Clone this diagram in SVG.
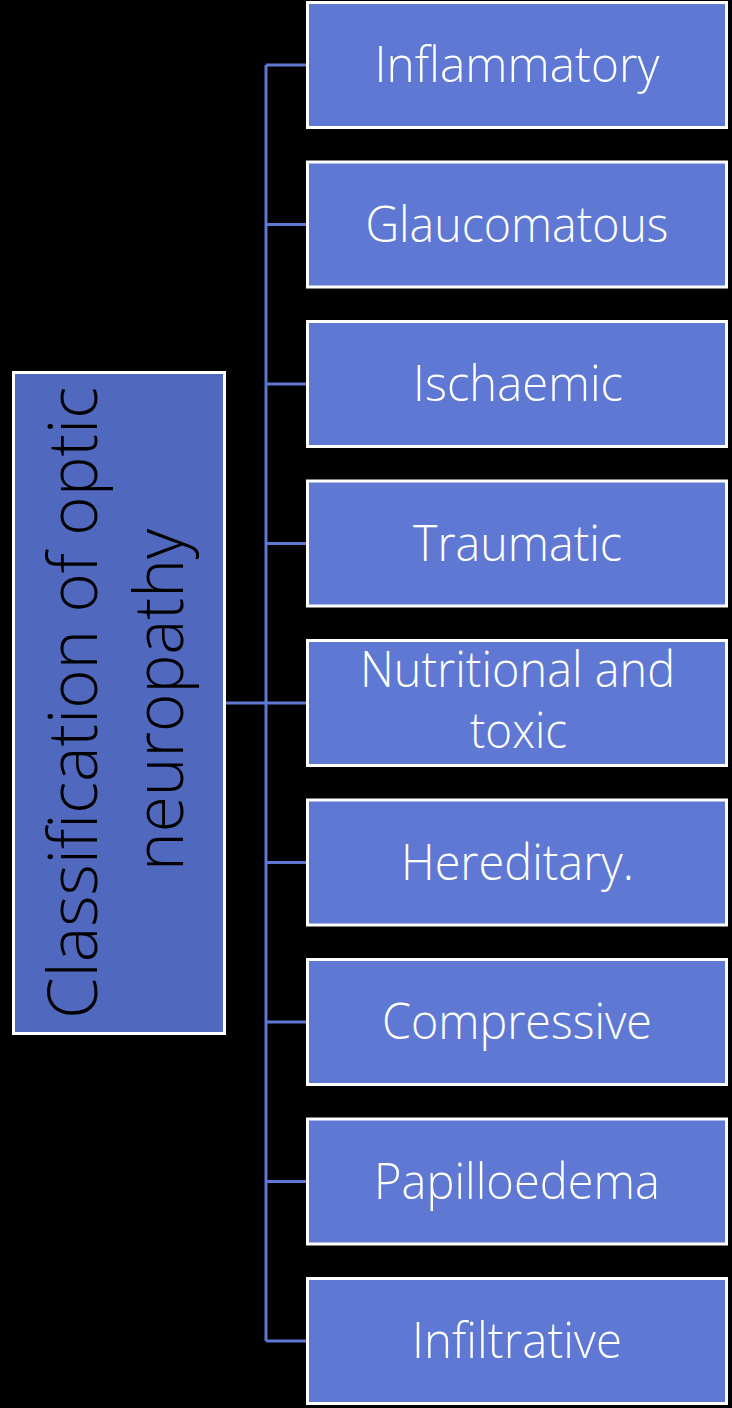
<svg xmlns="http://www.w3.org/2000/svg" width="732" height="1408" viewBox="0 0 732 1408">
<style>
.bg{fill:#000}
.box{fill:#5e78d3;stroke:#fff;stroke-width:3}
.root{fill:#5069bf;stroke:#fff;stroke-width:3}
.lbl{font-family:"Open Sans","Liberation Sans",sans-serif;font-weight:300;font-size:49px;fill:#fff;text-anchor:middle}
.rt{font-family:"Open Sans","Liberation Sans",sans-serif;font-weight:300;font-size:69px;fill:#000;text-anchor:middle}
.con{fill:none;stroke:#5e78d3;stroke-width:3}
</style>
<rect class="bg" x="0" y="0" width="732" height="1408"/>
<g id="connectors">
<path class="con" d="M226 703H266M266 65V1341M266 65H307M266 224.5H307M266 384H307M266 543.5H307M266 703H307M266 862.5H307M266 1022H307M266 1181.5H307M266 1341H307"/>
</g>
<g id="root">
<rect class="root" x="13.5" y="372.5" width="211" height="661"/>
<text class="rt" transform="translate(97,703) rotate(-90)" x="0" y="0" textLength="632" lengthAdjust="spacingAndGlyphs">Classification of optic</text>
<text class="rt" transform="translate(183,700) rotate(-90)" x="0" y="0" textLength="342" lengthAdjust="spacingAndGlyphs">neuropathy</text>
</g>
<g id="n1"><rect class="box" x="307.5" y="2.5" width="419" height="125"/><text class="lbl" x="517" y="82" textLength="285" lengthAdjust="spacingAndGlyphs">Inflammatory</text></g>
<g id="n2"><rect class="box" x="307.5" y="162" width="419" height="125"/><text class="lbl" x="517" y="241.5" textLength="303" lengthAdjust="spacingAndGlyphs">Glaucomatous</text></g>
<g id="n3"><rect class="box" x="307.5" y="321.5" width="419" height="125"/><text class="lbl" x="518" y="401" textLength="210" lengthAdjust="spacingAndGlyphs">Ischaemic</text></g>
<g id="n4"><rect class="box" x="307.5" y="481" width="419" height="125"/><text class="lbl" x="517.5" y="560.5" textLength="209" lengthAdjust="spacingAndGlyphs">Traumatic</text></g>
<g id="n5"><rect class="box" x="307.5" y="640.5" width="419" height="125"/><text class="lbl" x="517.5" y="687" textLength="315" lengthAdjust="spacingAndGlyphs">Nutritional and</text><text class="lbl" x="518.5" y="748" textLength="97" lengthAdjust="spacingAndGlyphs">toxic</text></g>
<g id="n6"><rect class="box" x="307.5" y="800" width="419" height="125"/><text class="lbl" x="517.5" y="879.5" textLength="233" lengthAdjust="spacingAndGlyphs">Hereditary.</text></g>
<g id="n7"><rect class="box" x="307.5" y="959.5" width="419" height="125"/><text class="lbl" x="517" y="1039" textLength="270" lengthAdjust="spacingAndGlyphs">Compressive</text></g>
<g id="n8"><rect class="box" x="307.5" y="1119" width="419" height="125"/><text class="lbl" x="517" y="1198.5" textLength="286" lengthAdjust="spacingAndGlyphs">Papilloedema</text></g>
<g id="n9"><rect class="box" x="307.5" y="1278.5" width="419" height="125"/><text class="lbl" x="517" y="1358" textLength="210" lengthAdjust="spacingAndGlyphs">Infiltrative</text></g>
</svg>
